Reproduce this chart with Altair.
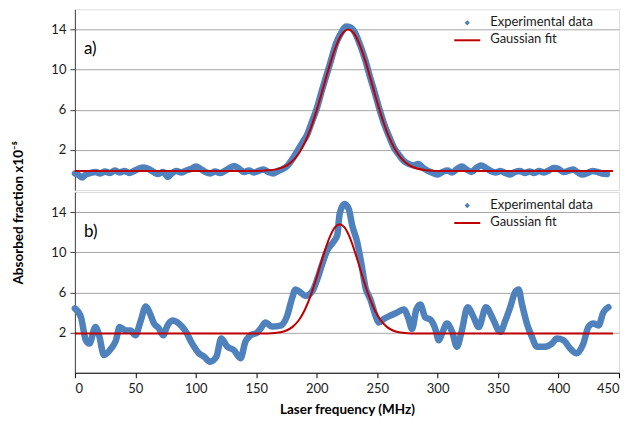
import altair as alt
import pandas as pd

# ---------------- data ----------------
# Panel a) experimental data
a_freq = [0, 3, 6, 9, 13, 17, 21, 25, 29, 33, 37, 41, 45, 49, 53, 57, 61, 65, 69, 73,
          77, 80, 84, 88, 92, 96, 100, 104, 108, 112, 116, 120, 124, 128, 132, 136, 140,
          144, 148, 152, 156, 160, 164, 168, 172, 176, 180, 184, 188, 192, 196, 200, 204,
          208, 212, 216, 220, 224, 228, 232, 236, 240, 244, 248, 252, 256, 260, 264, 268,
          272, 276, 280, 284, 288, 292, 296, 300, 304, 308, 312, 316, 320, 324, 328, 332,
          336, 340, 344, 348, 352, 356, 360, 364, 368, 372, 376, 380, 384, 388, 392, 396,
          400, 404, 408, 412, 416, 420, 424, 428, 432, 436, 440]
a_abs = [-0.35, -0.5, -0.75, -0.45, -0.3, -0.2, -0.35, -0.15, -0.3, -0.05, -0.25, -0.1,
         -0.3, -0.1, 0.15, 0.25, 0.1, -0.2, -0.4, -0.2, -0.7, -0.35, -0.1, -0.25, -0.05,
         0.1, 0.35, 0.1, -0.2, -0.35, -0.15, -0.3, -0.1, 0.2, 0.4, 0.1, -0.2, -0.05,
         -0.25, -0.1, 0.05, -0.2, -0.35, -0.1, 0.1, 0.45, 1.1, 1.9, 2.7, 3.5, 4.8, 6.1,
         7.8, 9.4, 11.0, 12.6, 13.6, 14.3, 14.2, 13.6, 12.4, 11.0, 9.3, 7.7, 6.0, 4.5,
         3.3, 2.2, 1.5, 0.9, 0.6, 0.45, 0.6, 0.2, -0.1, -0.3, -0.45, -0.2, -0.05, -0.25,
         0.1, 0.35, 0.05, -0.2, 0.2, 0.45, 0.2, -0.1, -0.25, -0.1, -0.3, -0.45, -0.2,
         -0.1, -0.3, -0.15, -0.3, -0.1, -0.25, -0.05, 0.2, 0.1, -0.2, -0.1, 0.05, -0.25,
         -0.45, -0.3, -0.1, -0.2, -0.35, -0.4]

# Panel a) Gaussian fit
a_fit_freq = [0, 150, 160, 170, 180, 185, 190, 195, 200, 205, 210, 215, 220, 226, 230,
              235, 240, 245, 250, 255, 260, 265, 270, 275, 280, 290, 300, 445]
a_fit_abs = [-0.1, -0.1, -0.04, 0.18, 0.9, 1.62, 2.69, 4.14, 5.96, 8.03, 10.14, 12.02,
             13.38, 14.0, 13.72, 12.64, 10.94, 8.88, 6.76, 4.83, 3.22, 2.01, 1.15, 0.6,
             0.27, -0.02, -0.1, -0.1]

# Panel b) experimental data
b_freq = [0, 5, 9, 12, 17, 20, 24, 30, 34, 37, 42, 46, 50, 54.5, 58.6, 61, 65.5, 69.6,
          73, 76.5, 80.7, 86, 91.7, 97, 102.6, 106.8, 111.7, 117, 121, 126, 131.5, 137,
          141, 145, 151, 153.6, 157.7, 163, 170, 175.6, 179.8, 182.5, 186.6, 190.7, 196.3,
          200.4, 204.5, 208.7, 214, 217, 219, 223, 226.5, 229.3, 233.4, 237, 240.3, 244.4,
          248.6, 251.3, 255.4, 261, 266.5, 272, 276, 278.8, 282.4, 285.7, 289.8, 294, 298,
          301, 303.6, 307.7, 312, 316, 320, 324.8, 329.7, 334, 340, 345, 351.8, 356, 360,
          364, 367, 369.7, 373.8, 378, 382, 389, 394.5, 398.6, 404, 409.6, 415, 420.5,
          424.7, 428.8, 433, 437, 441.2]
b_abs = [4.4, 3.55, 1.24, 0.9, 2.56, 1.73, -0.24, 0.42, 1.24, 2.56, 2.2, 2.2, 1.73, 3.2,
         4.6, 4.2, 2.9, 2.4, 1.73, 2.7, 3.2, 2.9, 2.1, 0.9, -0.07, -0.4, -0.9, -0.4, 1.4,
         0.6, 0.25, -0.56, 1.08, 1.7, 2.03, 2.4, 3.0, 2.6, 2.7, 3.7, 5.5, 6.3, 6.0, 5.65,
         6.1, 7.3, 8.8, 10.2, 11.06, 11.7, 13.85, 14.8, 14.3, 12.7, 11.06, 8.8, 6.5, 5.3,
         3.7, 3.0, 3.35, 3.7, 4.0, 4.3, 3.35, 2.36, 4.3, 4.8, 3.5, 3.3, 2.4, 1.24, 1.9,
         2.9, 2.07, 0.6, 2.2, 4.53, 3.55, 2.56, 4.53, 3.55, 2.07, 3.2, 4.53, 6.0, 6.3,
         4.86, 2.9, 1.57, 0.6, 0.6, 0.9, 1.4, 1.24, 0.42, -0.07, 0.9, 2.56, 2.9, 2.7,
         4.0, 4.53]

# Panel b) Gaussian fit
b_fit_freq = [0, 150, 160, 170, 175, 180, 185, 190, 195, 200, 205, 210, 215, 219, 223,
              228, 233, 238, 243, 248, 253, 258, 263, 268, 278, 290, 445]
b_fit_abs = [1.9, 1.9, 1.92, 2.03, 2.21, 2.57, 3.2, 4.23, 5.68, 7.52, 9.5, 11.29, 12.48,
             12.8, 12.48, 11.29, 9.5, 7.52, 5.68, 4.23, 3.2, 2.57, 2.21, 2.03, 1.92, 1.9,
             1.9]

x_ticks = [0, 50, 100, 150, 200, 250, 300, 350, 400, 450]
y_ticks = [2, 6, 10, 14]
series_names = ["Experimental data", "Gaussian fit"]
panel_labels = ["a)", "b)"]

# ---------------- style ----------------
FONT = "Lato"
BLUE = "#4F81BD"
RED = "#C00000"
W, H = 545, 181


def panel(fx, fy, gx, gy, label, show_x):
    d_exp = pd.DataFrame({"f": fx, "a": fy})
    d_fit = pd.DataFrame({"f": gx, "a": gy})
    if show_x:
        xaxis = alt.Axis(values=x_ticks, title="Laser frequency (MHz)", grid=False,
                         labelFontSize=13, labelFont=FONT, labelColor="#1a1a1a",
                         titleFont=FONT, titleFontSize=13.5, titleFontWeight="bold",
                         titleColor="#000000", titlePadding=7, tickSize=5,
                         tickColor="#000000", domainColor="#000000", labelPadding=5)
    else:
        xaxis = None
    x = alt.X("f:Q", scale=alt.Scale(domain=[0, 450], nice=False), axis=xaxis)
    y = alt.Y("a:Q", scale=alt.Scale(domain=[-2, 16], nice=False, zero=False),
              axis=alt.Axis(values=y_ticks, title=None, grid=True, gridColor="#A6A6A6",
                            gridWidth=1, labelFontSize=13, labelFont=FONT,
                            labelColor="#1a1a1a", tickSize=5, tickColor="#404040",
                            domainColor="#404040", labelPadding=4))
    exp_line = alt.Chart(d_exp).mark_line(
        color=BLUE, strokeWidth=6.5, strokeJoin="round", strokeCap="round",
        interpolate="monotone").encode(x=x, y=y)
    fit_line = alt.Chart(d_fit).mark_line(
        color=RED, strokeWidth=2, interpolate="monotone").encode(x=x, y=y)

    lab = alt.Chart(pd.DataFrame({"t": [label]})).mark_text(
        align="left", baseline="middle", fontSize=17, font=FONT, color="#000000"
    ).encode(x=alt.value(9), y=alt.value(40), text="t:N")

    leg_txt = alt.Chart(pd.DataFrame({"t": series_names, "yy": [13, 30]})).mark_text(
        align="left", baseline="middle", fontSize=13, font=FONT, color="#1a1a1a"
    ).encode(x=alt.value(416), y=alt.Y("yy:Q", scale=None), text="t:N")
    leg_dot = alt.Chart(pd.DataFrame({"k": [0]})).mark_point(
        shape="diamond", filled=True, color=BLUE, size=28, opacity=1
    ).encode(x=alt.value(393), y=alt.value(13.5))
    leg_line = alt.Chart(pd.DataFrame({"k": [0]})).mark_rule(
        color=RED, strokeWidth=2
    ).encode(x=alt.value(380), x2=alt.value(406), y=alt.value(31))

    return alt.layer(exp_line, fit_line, lab, leg_txt, leg_dot, leg_line).properties(
        width=W, height=H)


top = panel(a_freq, a_abs, a_fit_freq, a_fit_abs, panel_labels[0], False)
bottom = panel(b_freq, b_abs, b_fit_freq, b_fit_abs, panel_labels[1], True)

chart = alt.vconcat(top, bottom, spacing=0).properties(
    title=alt.TitleParams("Absorbed fraction x10⁻⁵", orient="left", anchor="middle",
                          font=FONT, fontSize=13.5, fontWeight="bold", color="#000000",
                          offset=25),
    padding={"left": 3, "top": 0, "right": 0, "bottom": 0},
).configure_view(stroke="#404040", strokeWidth=1.2).configure(background="#ffffff")

chart.save("out.html", embed_options={"renderer": "svg", "actions": False})
